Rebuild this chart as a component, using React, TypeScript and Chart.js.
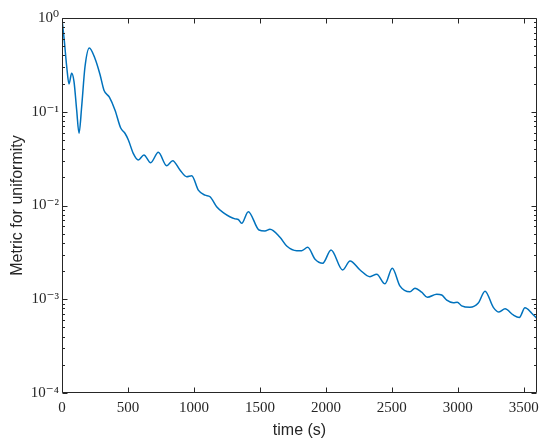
import React, { useEffect, useRef } from "react";
import { Chart, registerables } from "chart.js";

Chart.register(...registerables);

// time (s)
const times = [
  0, 17, 36, 53, 73, 91, 111, 129, 149, 174, 207, 250, 288, 318, 359, 402, 445, 477, 503, 540,
  578, 621, 672, 730, 793, 839, 894, 945, 983, 1033, 1084, 1122, 1172, 1222, 1311, 1336, 1362,
  1412, 1493, 1538, 1576, 1652, 1703, 1779, 1817, 1862, 1918, 1976, 2039, 2127, 2183, 2259,
  2334, 2385, 2448, 2503, 2562, 2637, 2675, 2726, 2769, 2840, 2878, 2916, 2966, 2996, 3029,
  3092, 3155, 3206, 3269, 3312, 3358, 3420, 3466, 3509, 3560, 3600,
];

// metric for uniformity
const metric = [
  0.97, 0.58, 0.3, 0.198, 0.257, 0.21, 0.105, 0.059, 0.113, 0.3, 0.48, 0.37, 0.25, 0.17, 0.143,
  0.104, 0.067, 0.059, 0.05, 0.036, 0.0306, 0.0346, 0.0286, 0.0369, 0.0266, 0.03, 0.0239, 0.0203,
  0.0208, 0.0146, 0.0129, 0.0124, 0.0097, 0.0084, 0.0072, 0.0071, 0.00646, 0.0086, 0.00548,
  0.00535, 0.00557, 0.00458, 0.0037, 0.0033, 0.0033, 0.00358, 0.00267, 0.00242, 0.00335, 0.00205,
  0.00256, 0.00205, 0.00174, 0.00185, 0.00146, 0.00214, 0.00138, 0.0012, 0.00131, 0.00119,
  0.00105, 0.00113, 0.00111, 0.00098, 0.00092, 0.00093, 0.00085, 0.00082, 0.00091, 0.00122,
  0.00082, 0.00073, 0.00079, 0.00068, 0.00064, 0.00081, 0.00071, 0.00062,
];

const xTicks = [0, 500, 1000, 1500, 2000, 2500, 3000, 3500];
const yDecades = [1e-4, 1e-3, 1e-2, 1e-1, 1];

const AXIS = "#262626";
const LINE = "#0072BD";

const SUP: Record<string, string> = {
  "-": "\u207B", "0": "\u2070", "1": "\u00B9", "2": "\u00B2", "3": "\u00B3", "4": "\u2074",
};
const pow10Label = (v: number) => {
  const e = Math.round(Math.log10(v));
  return "10" + String(e).split("").map((c) => SUP[c] ?? c).join("");
};

const framePlugin = {
  id: "frame",
  afterDatasetsDraw(chart: any) {
    const { ctx, chartArea, scales } = chart;
    const xs = scales.x;
    const ys = scales.y;
    const L = Math.round(chartArea.left) + 0.5;
    const R = Math.round(chartArea.right) - 0.5;
    const T = Math.round(chartArea.top) + 0.5;
    const B = Math.round(chartArea.bottom) - 0.5;
    ctx.save();
    ctx.strokeStyle = AXIS;
    ctx.lineWidth = 1;
    ctx.beginPath();
    ctx.rect(L, T, R - L, B - T);
    // x ticks (inward, top and bottom)
    xTicks.forEach((v) => {
      const px = Math.round(xs.getPixelForValue(v)) + 0.5;
      ctx.moveTo(px, B);
      ctx.lineTo(px, B - 5);
      ctx.moveTo(px, T);
      ctx.lineTo(px, T + 5);
    });
    // y ticks (major + minor, left and right)
    yDecades.forEach((d, i) => {
      const py = Math.round(ys.getPixelForValue(d)) + 0.5;
      ctx.moveTo(L, py);
      ctx.lineTo(L + 5, py);
      ctx.moveTo(R, py);
      ctx.lineTo(R - 5, py);
      if (i < yDecades.length - 1) {
        for (let m = 2; m <= 9; m++) {
          const pm = Math.round(ys.getPixelForValue(d * m)) + 0.5;
          ctx.moveTo(L, pm);
          ctx.lineTo(L + 2.5, pm);
          ctx.moveTo(R, pm);
          ctx.lineTo(R - 2.5, pm);
        }
      }
    });
    ctx.stroke();
    ctx.restore();
  },
};

export default function App() {
  const ref = useRef<HTMLCanvasElement | null>(null);

  useEffect(() => {
    if (!ref.current) return;
    const data = times.map((t, i) => ({ x: t, y: metric[i] }));
    const chart = new Chart(ref.current, {
      type: "line",
      data: {
        datasets: [
          {
            data,
            borderColor: LINE,
            borderWidth: 1.5,
            pointRadius: 0,
            fill: false,
            cubicInterpolationMode: "monotone",
          },
        ],
      },
      plugins: [framePlugin],
      options: {
        animation: false,
        responsive: true,
        maintainAspectRatio: false,
        layout: { padding: { top: 18, right: 13, left: 0, bottom: 0 } },
        plugins: { legend: { display: false }, tooltip: { enabled: false } },
        scales: {
          x: {
            type: "linear",
            min: 0,
            max: 3600,
            afterBuildTicks: (s: any) => {
              s.ticks = xTicks.map((v) => ({ value: v }));
            },
            afterFit: (s: any) => {
              s.height = 50;
            },
            grid: { display: false, drawTicks: false },
            border: { display: false },
            ticks: {
              padding: 6,
              maxRotation: 0,
              autoSkip: false,
              color: AXIS,
              font: { family: "'Liberation Serif', 'DejaVu Serif', serif", size: 15 },
              callback: (v: any) => String(v),
            },
            title: {
              display: true,
              text: "time (s)",
              color: AXIS,
              padding: { top: 0, bottom: 3 },
              font: { family: "'Liberation Sans', Arial, sans-serif", size: 16 },
            },
          },
          y: {
            type: "logarithmic",
            min: 1e-4,
            max: 1,
            afterBuildTicks: (s: any) => {
              s.ticks = yDecades.map((v) => ({ value: v }));
            },
            afterFit: (s: any) => {
              s.width = 62;
            },
            grid: { display: false, drawTicks: false },
            border: { display: false },
            ticks: {
              padding: 3,
              autoSkip: false,
              color: AXIS,
              font: { family: "'Liberation Serif', 'DejaVu Serif', serif", size: 15 },
              callback: (v: any) => pow10Label(Number(v)),
            },
            title: {
              display: true,
              text: "Metric for uniformity",
              color: AXIS,
              padding: { top: 8, bottom: 0 },
              font: { family: "'Liberation Sans', Arial, sans-serif", size: 16 },
            },
          },
        },
      },
    });
    return () => chart.destroy();
  }, []);

  return (
    <div style={{ position: "absolute", left: 0, top: 0, width: 550, height: 443, background: "#fff" }}>
      <canvas ref={ref} />
    </div>
  );
}
